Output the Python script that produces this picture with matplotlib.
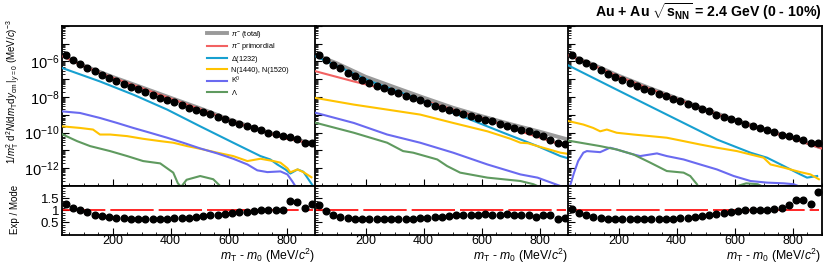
import numpy as np
import matplotlib
matplotlib.use("Agg")
import matplotlib.pyplot as plt
from matplotlib.lines import Line2D
from matplotlib.ticker import FixedLocator, FuncFormatter, MultipleLocator, NullFormatter

plt.rcParams['font.family'] = ['Liberation Sans', 'DejaVu Sans']
plt.rcParams['mathtext.fontset'] = 'custom'
plt.rcParams['mathtext.rm'] = 'Liberation Sans'
plt.rcParams['mathtext.it'] = 'Liberation Sans:italic'
plt.rcParams['mathtext.bf'] = 'Liberation Sans:bold'

# ---------------- data (log10 of yields) ----------------
x_bins = [37.5, 62.5, 87.5, 112.5, 137.5, 162.5, 187.5, 212.5, 237.5, 262.5, 287.5, 312.5,
          337.5, 362.5, 387.5, 412.5, 437.5, 462.5, 487.5, 512.5, 537.5, 562.5, 587.5, 612.5,
          637.5, 662.5, 687.5, 712.5, 737.5, 762.5, 787.5, 812.5, 837.5, 862.5, 887.5]

p1_data = [-5.64, -5.90, -6.15, -6.35, -6.55, -6.76, -6.95, -7.12, -7.27, -7.44, -7.58, -7.73,
           -7.90, -8.04, -8.16, -8.31, -8.46, -8.60, -8.72, -8.85, -8.98, -9.12, -9.25, -9.38,
           -9.51, -9.63, -9.75, -9.88, -10.00, -10.07, -10.17, -10.26, -10.35, -10.57, -10.57]
p2_data = [-5.64, -5.92, -6.20, -6.38, -6.63, -6.81, -7.04, -7.23, -7.38, -7.51, -7.64, -7.79,
           -7.93, -8.06, -8.19, -8.34, -8.49, -8.62, -8.71, -8.84, -8.93, -9.05, -9.18, -9.27,
           -9.37, -9.50, -9.61, -9.74, -9.83, -9.93, -10.06, -10.20, -10.39, -10.57, -10.62]
p3_data = [-5.64, -5.92, -6.10, -6.29, -6.47, -6.70, -6.88, -7.04, -7.19, -7.37, -7.55, -7.69,
           -7.82, -7.97, -8.11, -8.25, -8.38, -8.53, -8.67, -8.81, -8.99, -9.12, -9.23, -9.37,
           -9.50, -9.61, -9.74, -9.83, -9.98, -10.11, -10.20, -10.29, -10.43, -10.57, -10.57]

p1_ratio = [1.27, 1.09, 1.02, 0.93, 0.82, 0.75, 0.72, 0.69, 0.67, 0.65, 0.64, 0.64, 0.64, 0.64,
            0.65, 0.66, 0.68, 0.70, 0.73, 0.76, 0.79, 0.82, 0.85, 0.88, 0.91, 0.94, 0.97, 1.00,
            1.02, 1.03, 1.00, 1.38, 1.34, 1.09, 1.27]
p2_ratio = [1.20, 0.95, 0.79, 0.72, 0.68, 0.65, 0.63, 0.63, 0.63, 0.63, 0.63, 0.65, 0.65, 0.65,
            0.68, 0.69, 0.72, 0.72, 0.75, 0.79, 0.79, 0.82, 0.79, 0.83, 0.82, 0.79, 0.83, 0.79,
            0.79, 0.79, 0.72, 0.82, 0.82, 0.65, 0.70]
p3_ratio = [1.06, 0.90, 0.79, 0.72, 0.68, 0.65, 0.65, 0.63, 0.63, 0.63, 0.63, 0.63, 0.65, 0.65,
            0.65, 0.68, 0.69, 0.72, 0.77, 0.79, 0.86, 0.88, 0.93, 0.97, 0.99, 1.02, 1.02, 1.03,
            1.06, 1.10, 1.20, 1.43, 1.43, 1.24, 1.74]

grid_x = [25, 100, 200, 300, 400, 500, 600, 700, 800, 900]
p1_total = [-5.66, -6.24, -6.88, -7.46, -8.05, -8.63, -9.25, -9.80, -10.30, -10.62]
p1_prim = [-5.70, -6.28, -6.92, -7.50, -8.09, -8.67, -9.29, -9.84, -10.34, -10.66]
p2_total = [-5.62, -6.11, -6.87, -7.46, -8.04, -8.60, -9.08, -9.53, -9.95, -10.40]
p3_total = [-5.62, -6.10, -6.81, -7.46, -8.07, -8.70, -9.28, -9.80, -10.30, -10.85]
p3_prim = [-5.66, -6.14, -6.85, -7.50, -8.11, -8.74, -9.32, -9.84, -10.34, -10.89]

p2_prim_x = [25, 159, 274, 388, 502, 620, 734, 872, 900]
p2_prim = [-6.55, -7.13, -7.59, -8.15, -8.71, -9.27, -9.93, -10.67, -10.80]

p1_delta_x = [25, 156, 271, 388, 502, 616, 710, 744, 768, 796, 813, 838, 858, 883, 900]
p1_delta = [-6.37, -7.13, -7.87, -8.71, -9.65, -10.57, -11.32, -11.51, -11.79, -12.07, -12.30,
            -12.07, -12.20, -12.80, -13.20]
p2_delta_x = [25, 218, 388, 502, 561, 675, 793, 872, 900]
p2_delta = [-5.70, -7.13, -8.15, -8.90, -9.27, -10.01, -10.76, -11.32, -11.45]
p3_delta_x = [25, 193, 309, 424, 539, 597, 655, 712, 770, 827, 850, 885]
p3_delta = [-6.22, -7.59, -8.53, -9.46, -10.39, -10.76, -11.13, -11.41, -11.88, -12.35, -12.53, -12.44]

p1_nstar_x = [25, 87, 132, 156, 191, 250, 305, 364, 409, 457, 502, 561, 616, 665, 710, 755,
              779, 803, 813, 838, 858, 886]
p1_nstar = [-9.65, -9.74, -9.83, -10.11, -10.11, -10.20, -10.35, -10.48, -10.57, -10.76, -10.91,
            -11.13, -11.32, -11.60, -11.47, -11.60, -11.69, -12.00, -12.23, -12.07, -12.22, -12.51]
p2_nstar_x = [25, 159, 274, 388, 502, 620, 700, 734, 760, 793, 872, 900]
p2_nstar = [-8.05, -8.43, -8.71, -8.99, -9.46, -9.93, -10.35, -10.57, -10.60, -10.76, -11.13, -11.20]
p3_nstar_x = [25, 78, 112, 136, 159, 193, 251, 309, 366, 424, 481, 539, 608, 655, 700, 724,
              770, 827, 862, 891]
p3_nstar = [-9.35, -9.55, -9.74, -9.93, -9.83, -10.01, -10.11, -10.20, -10.29, -10.48, -10.67,
            -10.85, -11.04, -11.23, -11.41, -11.79, -11.97, -12.22, -12.35, -12.62]

p1_k0_x = [25, 87, 156, 215, 271, 329, 388, 443, 502, 561, 616, 665, 699, 734, 779, 803, 820, 838]
p1_k0 = [-8.81, -8.90, -9.18, -9.46, -9.74, -10.01, -10.29, -10.57, -10.89, -11.17, -11.47,
         -11.79, -12.12, -12.22, -12.18, -12.35, -12.74, -13.20]
p2_k0_x = [25, 159, 274, 388, 502, 620, 734, 793, 872, 900]
p2_k0 = [-8.88, -9.46, -10.11, -10.57, -11.13, -11.79, -12.35, -12.53, -13.00, -13.20]
p3_k0_x = [30, 45, 60, 78, 90, 136, 170, 193, 251, 274, 309, 332, 366, 424, 481, 539, 597, 655,
           712, 770, 804, 830]
p3_k0 = [-13.10, -12.30, -11.60, -11.13, -11.04, -11.10, -10.85, -10.95, -11.23, -11.32, -11.23,
         -11.17, -11.32, -11.51, -11.79, -12.07, -12.44, -12.72, -12.81, -12.85, -12.90, -13.07]

p1_lam_x = [25, 77, 122, 191, 250, 305, 364, 409, 425, 436, 455, 502, 547, 571, 590]
p1_lam = [-10.09, -10.48, -10.76, -11.04, -11.32, -11.60, -11.73, -12.25, -12.85, -13.05, -12.65,
          -12.44, -12.62, -13.00, -13.50]
p2_lam_x = [25, 159, 274, 329, 364, 447, 481, 526, 620, 734, 779, 820]
p2_lam = [-9.44, -10.01, -10.57, -11.04, -11.13, -11.51, -11.88, -12.25, -12.53, -12.72, -12.90, -13.20]
p3_lam_x = [25, 136, 193, 251, 309, 343, 366, 424, 447, 470, 480, 590, 640, 680, 720]
p3_lam = [-10.45, -10.76, -10.95, -11.23, -11.69, -11.97, -12.16, -12.25, -12.44, -12.90, -13.20,
          -13.10, -12.85, -12.90, -13.20]

legend_labels = [r"$\pi^{-}$ (total)", r"$\pi^{-}$ primordial", r"$\Delta$(1232)",
                 "N(1440), N(1520)", r"K$^{0}$", r"$\Lambda$"]

# ---------------- style ----------------
c_total = "#9a9a9a"
c_prim = "#f26262"
c_delta = "#17a0d0"
c_nstar = "#ffc300"
c_k0 = "#6a6af0"
c_lam = "#5f9a5f"

W, H = 830, 265
fig = plt.figure(figsize=(W / 100, H / 100), dpi=100)

lefts = [62, 315, 568]
pw = 253.5
top_px, mid_px, bot_px = 25.7, 186.0, 234.5

panels = [
    dict(data=p1_data, ratio=p1_ratio, total=(grid_x, p1_total), prim=(grid_x, p1_prim),
         delta=(p1_delta_x, p1_delta), nstar=(p1_nstar_x, p1_nstar), k0=(p1_k0_x, p1_k0),
         lam=(p1_lam_x, p1_lam)),
    dict(data=p2_data, ratio=p2_ratio, total=(grid_x, p2_total), prim=(p2_prim_x, p2_prim),
         delta=(p2_delta_x, p2_delta), nstar=(p2_nstar_x, p2_nstar), k0=(p2_k0_x, p2_k0),
         lam=(p2_lam_x, p2_lam)),
    dict(data=p3_data, ratio=p3_ratio, total=(grid_x, p3_total), prim=(grid_x, p3_prim),
         delta=(p3_delta_x, p3_delta), nstar=(p3_nstar_x, p3_nstar), k0=(p3_k0_x, p3_k0),
         lam=(p3_lam_x, p3_lam)),
]

def logfmt(v, pos):
    e = int(round(np.log10(v)))
    if e in (-6, -8, -10, -12):
        return r"$10^{%d}$" % e
    return ""

def L(v):
    return 10.0 ** np.asarray(v)

for i, (lp, P) in enumerate(zip(lefts, panels)):
    axu = fig.add_axes([lp / W, 1 - mid_px / H, pw / W, (mid_px - top_px) / H])
    axl = fig.add_axes([lp / W, 1 - bot_px / H, pw / W, (bot_px - mid_px) / H])

    axu.plot(P['total'][0], L(P['total'][1]), color=c_total, lw=2.8, solid_capstyle='butt', zorder=2)
    axu.plot(P['prim'][0], L(P['prim'][1]), color=c_prim, lw=1.5, zorder=3)
    axu.plot(P['delta'][0], L(P['delta'][1]), color=c_delta, lw=1.5, zorder=3)
    axu.plot(P['nstar'][0], L(P['nstar'][1]), color=c_nstar, lw=1.5, zorder=3)
    axu.plot(P['k0'][0], L(P['k0'][1]), color=c_k0, lw=1.5, zorder=3)
    axu.plot(P['lam'][0], L(P['lam'][1]), color=c_lam, lw=1.5, zorder=3)
    axu.plot(x_bins, L(P['data']), 'o', color='black', ms=4.8, mec='black', zorder=5)

    axu.set_yscale('log')
    axu.set_ylim(1e-13, 1e-4)
    axu.set_xlim(25, 900)
    axl.set_xlim(25, 900)
    axl.set_ylim(0, 2)

    axl.plot([25, 890], [1, 1], color='red', lw=1.2, dashes=(26, 3), zorder=2)
    axl.plot(x_bins, P['ratio'], 'o', color='black', ms=4.8, zorder=5)

    majors = [10.0 ** e for e in range(-13, -3)]
    minors = [m * 10.0 ** e for e in range(-13, -4) for m in range(2, 10)]
    axu.yaxis.set_major_locator(FixedLocator(majors))
    axu.yaxis.set_minor_locator(FixedLocator(minors))
    axu.yaxis.set_minor_formatter(NullFormatter())
    if i == 0:
        axu.yaxis.set_major_formatter(FuncFormatter(logfmt))
    else:
        axu.yaxis.set_major_formatter(NullFormatter())
    for ax in (axu, axl):
        ax.xaxis.set_major_locator(MultipleLocator(200))
        ax.xaxis.set_minor_locator(MultipleLocator(50))
        ax.tick_params(which='both', direction='in', top=False, right=False)
        ax.tick_params(which='major', length=5, width=0.8)
        ax.tick_params(which='minor', length=2.5, width=0.6)
        for s in ax.spines.values():
            s.set_linewidth(1.3)
    axu.tick_params(axis='x', labelbottom=False)
    axu.tick_params(axis='y', labelsize=10.5, pad=2)
    axl.yaxis.set_major_locator(FixedLocator([0.5, 1.0, 1.5]))
    axl.yaxis.set_minor_locator(MultipleLocator(0.1))
    axl.tick_params(axis='y', labelsize=9.5, pad=2, labelleft=(i == 0))
    axl.tick_params(axis='x', labelsize=9, pad=0.5)
    if i == 0:
        axl.set_yticklabels(["0.5", "1", "1.5"])
    axl.set_xlabel(r"$m_{\mathrm{T}}$ - $m_{0}$ (MeV/$c^{2}$)", loc='right', fontsize=8.8, labelpad=-0.5)

handles = [Line2D([], [], color=c_total, lw=2.8), Line2D([], [], color=c_prim, lw=1.5),
           Line2D([], [], color=c_delta, lw=1.5), Line2D([], [], color=c_nstar, lw=1.5),
           Line2D([], [], color=c_k0, lw=1.5), Line2D([], [], color=c_lam, lw=1.5)]
fig.legend(handles, legend_labels, loc='upper left', bbox_to_anchor=(207 / W, 1 - 29 / H),
           bbox_transform=fig.transFigure, frameon=False, fontsize=5.3, handlelength=2.7,
           handletextpad=0.55, labelspacing=0.2, borderpad=0, borderaxespad=0)

fig.text(822 / W, 1 - 12 / H, r"Au + Au $\mathbf{\sqrt{s_{NN}}}$ = 2.4 GeV (0 - 10%)",
         ha='right', va='center', fontsize=10.2, fontweight='bold')
fig.text(14 / W, 1 - 92 / H,
         r"$1/m_{\mathrm{T}}^{2}\ \mathrm{d}^{2}N/\mathrm{d}m_{\mathrm{T}}\mathrm{d}y_{\mathrm{cm}}\,|_{y=0}$ (MeV/$c$)$^{-3}$",
         rotation=90, ha='center', va='center', fontsize=7.0)
fig.text(15 / W, 1 - 209 / H, "Exp / Mode", rotation=90, ha='center', va='center', fontsize=7)

fig.savefig("out.png", dpi=100)
